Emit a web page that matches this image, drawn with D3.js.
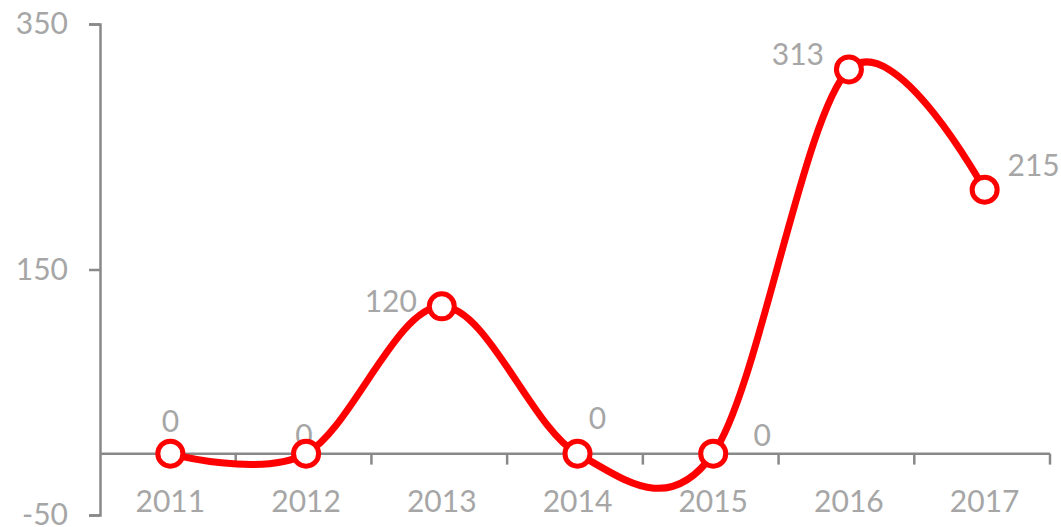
<!DOCTYPE html>
<html>
<head>
<meta charset="utf-8">
<script src="https://cdn.jsdelivr.net/npm/d3@7"></script>
<style>
	body { margin: 0; background: #fff; }
	svg text { font-family: Lato, "Open Sans", sans-serif; fill: #a6a6a6; }
</style>
</head>
<body>
<script>
var width = 1061,
	height = 527;

// Chart data
var years = ["2011", "2012", "2013", "2014", "2015", "2016", "2017"];
var counts = [0, 0, 120, 0, 0, 313, 215];
var yTicks = [-50, 150, 350];

// Where each value label sits relative to its point (label centre)
var labelOffsets = [[0, -32], [-2, -18], [-51, -5], [20, -35], [49, -18], [-51, -15], [49, -24]];

var margin = {left: 100, right: 11, top: 24, bottom: 12};

var svg = d3.select("body").append("svg")
	.attr("width", width)
	.attr("height", height);

var x = d3.scaleBand()
	.domain(years)
	.range([margin.left, width - margin.right]);

var y = d3.scaleLinear()
	.domain([-50, 350])
	.range([height - margin.bottom, margin.top]);

// centre of a category, nudged a little right like the original
function cx(i) {
	return x(years[i]) + x.bandwidth() / 2 + 2.5;
}

var axisColor = "#898989";

// Y axis
var yAxis = svg.append("g")
	.attr("transform", "translate(" + margin.left + ",0)")
	.call(d3.axisLeft(y)
		.tickValues(yTicks)
		.tickFormat(function(d) { return String(d); })
		.tickSize(11)
		.tickPadding(21));
yAxis.select(".domain").attr("stroke", axisColor).attr("stroke-width", 2.5);
yAxis.selectAll(".tick line").attr("stroke", axisColor).attr("stroke-width", 2.5);
yAxis.selectAll(".tick text")
	.attr("font-size", 30)
	.attr("fill", "#a6a6a6")
	.style("font-family", "Lato, sans-serif");

// X axis at zero, tick marks on category boundaries
var zeroY = y(0);
var xg = svg.append("g");
xg.append("line")
	.attr("x1", margin.left)
	.attr("x2", width - margin.right)
	.attr("y1", zeroY)
	.attr("y2", zeroY)
	.attr("stroke", axisColor)
	.attr("stroke-width", 2.5);
xg.selectAll(".xtick")
	.data(years.slice(1).concat(["end"]))
	.enter().append("line")
	.attr("class", "xtick")
	.attr("x1", function(d, i) { return x(years[0]) + (i + 1) * x.bandwidth(); })
	.attr("x2", function(d, i) { return x(years[0]) + (i + 1) * x.bandwidth(); })
	.attr("y1", zeroY)
	.attr("y2", zeroY + 11)
	.attr("stroke", axisColor)
	.attr("stroke-width", 2.5);
xg.selectAll(".xlabel")
	.data(years)
	.enter().append("text")
	.attr("class", "xlabel")
	.attr("x", function(d, i) { return cx(i); })
	.attr("y", zeroY + 48)
	.attr("dy", "0.35em")
	.attr("text-anchor", "middle")
	.attr("font-size", 30)
	.text(function(d) { return d; });

// Value labels (drawn under the line, as in the original)
svg.selectAll(".vlabel")
	.data(counts)
	.enter().append("text")
	.attr("class", "vlabel")
	.attr("x", function(d, i) { return cx(i) + labelOffsets[i][0]; })
	.attr("y", function(d, i) { return y(d) + labelOffsets[i][1]; })
	.attr("dy", "0.35em")
	.attr("text-anchor", "middle")
	.attr("font-size", 30)
	.text(function(d) { return d; });

// Smoothed line
var line = d3.line()
	.x(function(d, i) { return cx(i); })
	.y(function(d) { return y(d); })
	.curve(d3.curveCardinal.tension(0));

svg.append("path")
	.datum(counts)
	.attr("d", line)
	.attr("fill", "none")
	.attr("stroke", "#ff0000")
	.attr("stroke-width", 7)
	.attr("stroke-linejoin", "round");

// Markers
svg.selectAll("circle")
	.data(counts)
	.enter().append("circle")
	.attr("cx", function(d, i) { return cx(i); })
	.attr("cy", function(d) { return y(d); })
	.attr("r", 12.5)
	.attr("fill", "#fff")
	.attr("stroke", "#ff0000")
	.attr("stroke-width", 5);
</script>
</body>
</html>
